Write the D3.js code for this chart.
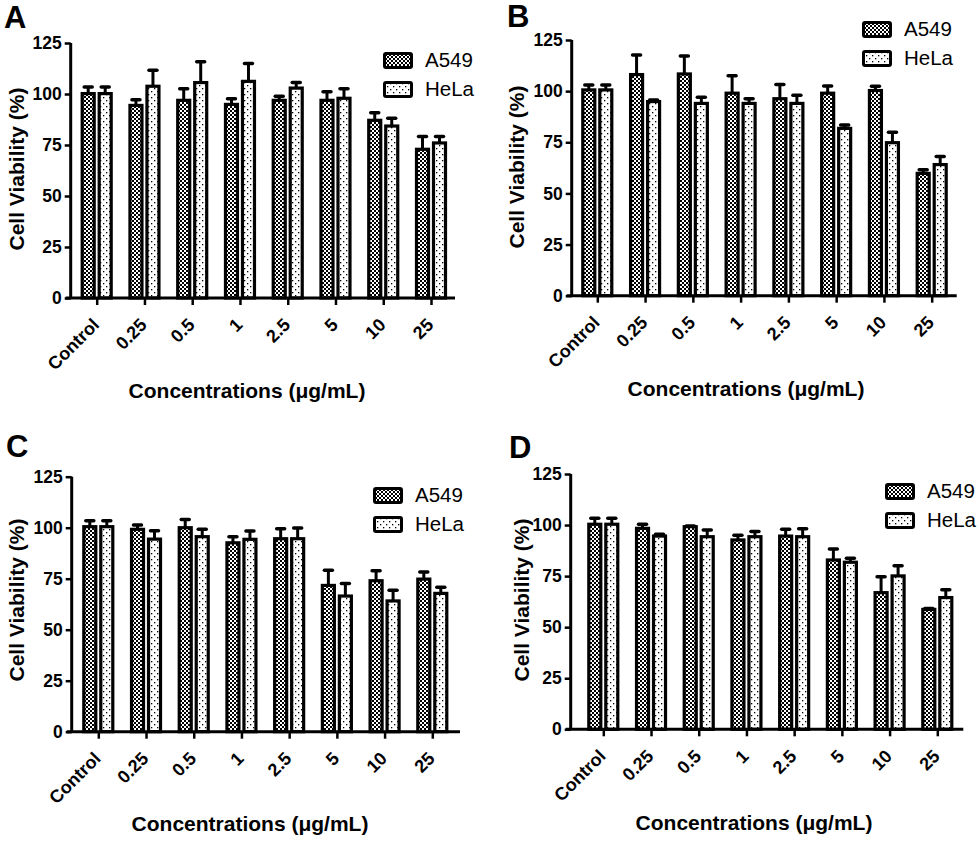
<!DOCTYPE html>
<meta charset="utf-8" />
<script src="https://d3js.org/d3.v7.min.js"></script>
<style>
  body { margin: 0; background: #fff; }
  svg text { font-family: "Liberation Sans", Arial, sans-serif; fill: #000; }
</style>
<body>
<div id="chart"></div>
<script>
  // concentrations on the x axis
  var categories = ["Control", "0.25", "0.5", "1", "2.5", "5", "10", "25"];
  var seriesNames = ["A549", "HeLa"];
  var yTicks = [0, 25, 50, 75, 100, 125];

  // panel A
  var a549A = [100.2, 94.4, 96.9, 94.9, 96.9, 96.9, 87.1, 72.9];
  var a549ErrA = [3.2, 2.8, 5.7, 2.8, 2.0, 4.2, 3.7, 6.3];
  var helaA = [100.2, 103.8, 105.6, 106.2, 102.9, 97.9, 84.3, 76.0];
  var helaErrA = [3.2, 7.8, 10.2, 8.7, 2.7, 4.7, 3.8, 3.2];

  // panel B
  var a549B = [100.6, 108.1, 108.4, 99.0, 96.3, 99.0, 100.3, 59.8];
  var a549ErrB = [2.4, 9.6, 8.8, 8.5, 7.0, 3.5, 2.1, 1.8];
  var helaB = [100.6, 94.9, 94.0, 94.0, 94.0, 81.8, 74.8, 64.1];
  var helaErrB = [2.4, 0.8, 3.0, 2.3, 4.0, 1.6, 5.1, 3.9];

  // panel C
  var a549C = [100.5, 99.2, 100.0, 92.6, 94.6, 71.7, 74.0, 74.8];
  var a549ErrC = [2.9, 2.1, 4.0, 3.0, 4.9, 7.5, 4.9, 3.5];
  var helaC = [100.5, 94.4, 95.6, 94.3, 94.6, 66.5, 64.1, 67.8];
  var helaErrC = [2.9, 4.1, 3.6, 4.1, 5.2, 6.2, 5.2, 3.0];

  // panel D
  var a549D = [100.4, 98.4, 99.2, 92.7, 94.6, 82.9, 66.9, 58.7];
  var a549ErrD = [2.9, 2.0, 0.4, 2.3, 3.3, 5.4, 7.8, 0.4];
  var helaD = [100.4, 94.6, 94.3, 94.3, 94.3, 81.8, 75.1, 64.5];
  var helaErrD = [2.9, 0.9, 3.3, 2.5, 3.9, 1.9, 5.0, 3.8];

  // where each panel sits on the page
  var panels = [
    { letter: "A", a549: a549A, a549Err: a549ErrA, hela: helaA, helaErr: helaErrA,
      axisX: 70.7, y0: 298, yTop: 43, firstTick: 96.7, lastTick: 431, xEnd: 455,
      letterX: 4, letterY: 28, legX: 383, legY: 52, titleX: 247, titleY: 398, yLabX: 17, yLabY: 169 },
    { letter: "B", a549: a549B, a549Err: a549ErrB, hela: helaB, helaErr: helaErrB,
      axisX: 571.7, y0: 295.7, yTop: 40, firstTick: 597.3, lastTick: 931.7, xEnd: 956.7,
      letterX: 507, letterY: 27, legX: 862, legY: 21, titleX: 746, titleY: 396, yLabX: 517, yLabY: 167 },
    { letter: "C", a549: a549C, a549Err: a549ErrC, hela: helaC, helaErr: helaErrC,
      axisX: 71.7, y0: 731.7, yTop: 476.7, firstTick: 98.3, lastTick: 432.3, xEnd: 460,
      letterX: 6, letterY: 457, legX: 373, legY: 487, titleX: 250, titleY: 831, yLabX: 17, yLabY: 600 },
    { letter: "D", a549: a549D, a549Err: a549ErrD, hela: helaD, helaErr: helaErrD,
      axisX: 570.7, y0: 729.3, yTop: 474, firstTick: 603.3, lastTick: 937.3, xEnd: 963.3,
      letterX: 509, letterY: 458, legX: 885, legY: 483, titleX: 754, titleY: 830, yLabX: 522, yLabY: 600 }
  ];

  var svg = d3.select("#chart").append("svg")
    .attr("width", 980)
    .attr("height", 841);

  // fill patterns
  var defs = svg.append("defs");
  var checker = defs.append("pattern")
    .attr("id", "checker")
    .attr("patternUnits", "userSpaceOnUse")
    .attr("width", 4).attr("height", 4);
  checker.append("rect").attr("width", 4).attr("height", 4).attr("fill", "#fff");
  checker.append("rect").attr("width", 2).attr("height", 2).attr("fill", "#000");
  checker.append("rect").attr("x", 2).attr("y", 2).attr("width", 2).attr("height", 2).attr("fill", "#000");

  var dots = defs.append("pattern")
    .attr("id", "dots")
    .attr("patternUnits", "userSpaceOnUse")
    .attr("width", 6).attr("height", 6);
  dots.append("rect").attr("width", 6).attr("height", 6).attr("fill", "#fff");
  dots.append("rect").attr("x", 1).attr("y", 1).attr("width", 1.3).attr("height", 1.3).attr("fill", "#000");
  dots.append("rect").attr("x", 4).attr("y", 4).attr("width", 1.3).attr("height", 1.3).attr("fill", "#000");

  var fills = ["url(#checker)", "url(#dots)"];
  var barW = 12, offset = 8.5;

  panels.forEach(function(p) {
    var g = svg.append("g");

    var x = d3.scalePoint().domain(categories).range([p.firstTick, p.lastTick]);
    var y = d3.scaleLinear().domain([0, 125]).range([p.y0, p.yTop]);

    var series = [
      { name: seriesNames[0], values: p.a549, errs: p.a549Err, dx: -offset, fill: fills[0] },
      { name: seriesNames[1], values: p.hela, errs: p.helaErr, dx: offset, fill: fills[1] }
    ];

    series.forEach(function(s) {
      var rows = categories.map(function(c, i) {
        return { cat: c, v: s.values[i], e: s.errs[i] };
      });
      // error bars (upper only)
      g.selectAll(null).data(rows).enter().append("line")
        .attr("x1", function(d) { return x(d.cat) + s.dx; })
        .attr("x2", function(d) { return x(d.cat) + s.dx; })
        .attr("y1", function(d) { return y(d.v); })
        .attr("y2", function(d) { return y(d.v + d.e); })
        .attr("stroke", "#000").attr("stroke-width", 3);
      g.selectAll(null).data(rows).enter().append("line")
        .attr("x1", function(d) { return x(d.cat) + s.dx - 4; })
        .attr("x2", function(d) { return x(d.cat) + s.dx + 4; })
        .attr("y1", function(d) { return y(d.v + d.e); })
        .attr("y2", function(d) { return y(d.v + d.e); })
        .attr("stroke", "#000").attr("stroke-width", 3.5)
        .attr("stroke-linecap", "round");
      // bars
      g.selectAll(null).data(rows).enter().append("rect")
        .attr("x", function(d) { return x(d.cat) + s.dx - barW / 2; })
        .attr("y", function(d) { return y(d.v); })
        .attr("width", barW)
        .attr("height", function(d) { return y(0) - y(d.v); })
        .attr("fill", s.fill)
        .attr("stroke", "#000").attr("stroke-width", 3.2);
    });

    // y axis
    var yAxis = g.append("g")
      .attr("transform", "translate(" + p.axisX + ",0)")
      .call(d3.axisLeft(y).tickValues(yTicks).tickSize(6).tickPadding(3));
    yAxis.select(".domain").attr("stroke-width", 3).attr("d", "M0," + p.y0 + "V" + p.yTop);
    yAxis.selectAll(".tick line").attr("stroke-width", 2.5);
    yAxis.selectAll(".tick text")
      .style("font-size", "17.5px").style("font-weight", "bold")
      .style("font-family", "'Liberation Sans', Arial, sans-serif");

    // x axis
    var xAxis = g.append("g")
      .attr("transform", "translate(0," + p.y0 + ")")
      .call(d3.axisBottom(x).tickSize(7).tickSizeOuter(0));
    xAxis.select(".domain").attr("stroke-width", 3)
      .attr("d", "M" + (p.axisX - 5) + ",0H" + p.xEnd);
    xAxis.selectAll(".tick line").attr("stroke-width", 2.5);
    xAxis.selectAll(".tick text")
      .style("font-size", "18px").style("font-weight", "bold")
      .style("font-family", "'Liberation Sans', Arial, sans-serif")
      .attr("text-anchor", "end")
      .attr("x", 0).attr("y", 0).attr("dy", 0)
      .attr("transform", "translate(3,28) rotate(-45)");

    // axis titles
    g.append("text")
      .attr("x", p.titleX).attr("y", p.titleY)
      .attr("text-anchor", "middle")
      .style("font-size", "21px").style("font-weight", "bold")
      .text("Concentrations (\u03bcg/mL)");

    g.append("text")
      .attr("transform", "translate(" + p.yLabX + "," + p.yLabY + ") rotate(-90)")
      .attr("text-anchor", "middle")
      .attr("dy", "0.35em")
      .style("font-size", "21px").style("font-weight", "bold")
      .text("Cell Viability (%)");

    // panel letter
    g.append("text")
      .attr("x", p.letterX).attr("y", p.letterY)
      .style("font-size", "31px").style("font-weight", "bold")
      .text(p.letter);

    // legend
    var leg = g.append("g").attr("transform", "translate(" + p.legX + "," + p.legY + ")");
    series.forEach(function(s, i) {
      leg.append("rect")
        .attr("x", 1.5).attr("y", 1.5 + i * 29)
        .attr("width", 27).attr("height", 14)
        .attr("rx", 1.5)
        .attr("fill", s.fill)
        .attr("stroke", "#000").attr("stroke-width", 3);
      leg.append("text")
        .attr("x", 42).attr("y", 15 + i * 29)
        .style("font-size", "20.5px")
        .text(s.name);
    });
  });
</script>
</body>
